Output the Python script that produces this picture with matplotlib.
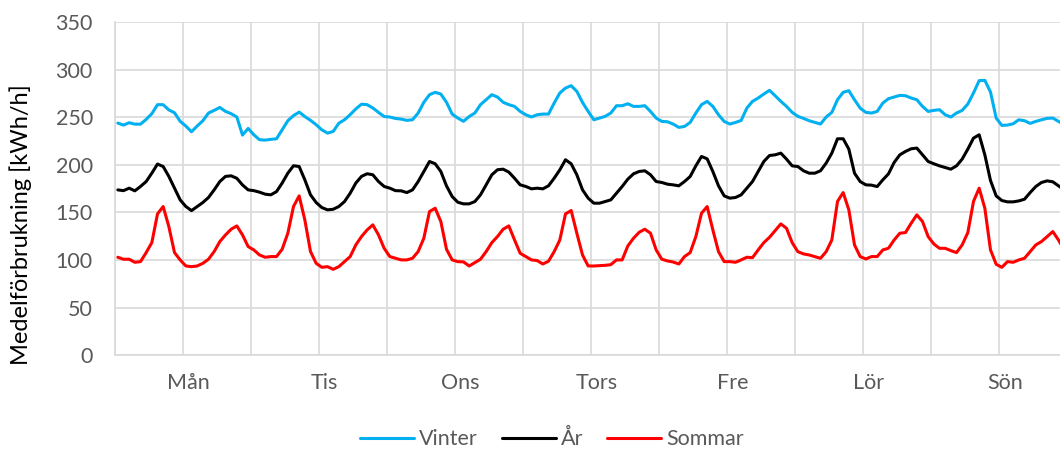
import numpy as np
import matplotlib
matplotlib.use("Agg")
import matplotlib.pyplot as plt

plt.rcParams['font.family'] = ['Lato', 'DejaVu Sans']

days = ["Mån", "Tis", "Ons", "Tors", "Fre", "Lör", "Sön"]
series_names = ["Vinter", "År", "Sommar"]

vinter = [
    244.1, 242.0, 244.5, 243.0, 243.0, 248.0, 254.0, 263.5, 263.5, 258.0, 255.0, 246.0,
    241.0, 235.0, 241.0, 246.6, 254.7, 257.5, 260.6, 256.4, 254.0, 250.5, 231.5, 238.5,
    231.8, 226.6, 226.2, 227.0, 227.6, 237.0, 246.6, 252.0, 255.7, 251.0, 247.0, 242.4,
    237.0, 233.6, 235.3, 244.0, 247.6, 253.0, 259.0, 264.0, 263.5, 260.0, 255.4, 251.0,
    250.5, 249.0, 248.3, 247.0, 247.6, 254.7, 266.0, 274.0, 276.5, 274.7, 266.0, 253.6,
    249.4, 246.0, 251.0, 254.7, 263.5, 268.7, 274.0, 271.5, 266.0, 263.5, 261.7, 256.4,
    252.9, 250.5, 252.9, 253.6, 253.6, 265.2, 275.8, 281.0, 283.5, 277.5, 265.9, 256.4,
    247.6, 249.4, 251.2, 254.7, 262.4, 262.4, 264.5, 261.7, 261.7, 262.4, 256.4, 249.4,
    245.9, 245.5, 243.1, 239.6, 240.6, 244.8, 254.7, 263.5, 267.0, 261.7, 252.9, 245.9,
    243.1, 244.8, 246.9, 259.9, 267.0, 270.5, 274.7, 278.6, 272.9, 267.0, 261.7, 255.4,
    251.2, 249.1, 246.6, 244.8, 243.1, 250.5, 255.4, 268.7, 276.5, 278.2, 268.7, 259.9,
    255.4, 254.7, 256.4, 265.2, 269.8, 271.5, 273.3, 272.9, 270.5, 268.7, 261.7, 256.4,
    257.5, 258.2, 252.9, 250.5, 254.7, 257.5, 264.2, 275.8, 288.8, 289.1, 276.8, 249.4,
    241.7, 242.0, 243.4, 247.6, 246.6, 243.8, 245.9, 247.6, 249.1, 249.4, 245.9, 242.4,
]

ar = [
    173.8, 173.0, 175.6, 172.8, 177.4, 182.6, 191.4, 201.0, 198.4, 188.0, 175.6, 163.3,
    156.3, 152.0, 156.3, 160.5, 165.8, 173.8, 182.6, 188.0, 188.6, 186.0, 179.0, 173.8,
    173.0, 171.4, 169.3, 168.6, 172.0, 181.0, 191.4, 199.2, 198.4, 184.4, 168.6, 160.5,
    155.2, 152.8, 153.4, 156.3, 161.5, 170.3, 181.0, 188.0, 190.8, 189.7, 182.6, 177.4,
    175.6, 173.0, 172.8, 171.0, 173.8, 182.6, 193.2, 203.7, 201.3, 193.2, 178.0, 166.8,
    160.8, 159.1, 159.1, 161.5, 168.6, 179.1, 189.7, 195.0, 195.6, 192.5, 186.1, 179.1,
    177.4, 174.9, 175.6, 174.9, 178.1, 186.1, 194.9, 205.5, 201.3, 189.7, 173.9, 165.1,
    159.8, 159.8, 161.5, 163.3, 170.3, 177.4, 185.1, 190.7, 193.2, 193.9, 189.7, 182.6,
    181.6, 179.8, 179.1, 178.1, 182.6, 187.9, 199.1, 209.0, 206.5, 193.2, 178.1, 167.5,
    165.1, 165.8, 168.6, 175.6, 182.6, 193.2, 203.7, 210.0, 210.7, 212.5, 206.2, 199.1,
    198.4, 193.9, 191.4, 191.4, 193.9, 202.0, 212.5, 227.6, 227.6, 216.7, 191.4, 182.6,
    179.1, 178.8, 177.3, 184.4, 190.7, 202.7, 210.7, 214.3, 217.1, 217.8, 210.7, 203.7,
    201.3, 199.1, 197.4, 195.6, 199.1, 206.2, 216.7, 228.3, 231.8, 210.7, 183.7, 167.5,
    162.6, 161.2, 161.2, 162.2, 164.0, 171.0, 177.4, 181.6, 183.3, 182.3, 178.1, 173.8,
]

sommar = [
    102.9, 100.8, 100.8, 97.6, 98.3, 107.8, 118.3, 148.5, 156.3, 135.2, 107.8, 100.1,
    93.7, 93.0, 93.7, 96.5, 100.8, 108.9, 119.4, 126.4, 132.4, 135.9, 126.4, 114.1,
    110.6, 105.3, 102.9, 103.6, 103.6, 111.3, 128.2, 156.3, 167.5, 142.2, 108.9, 96.5,
    92.3, 93.0, 90.2, 93.0, 98.3, 103.6, 115.9, 124.7, 131.7, 137.0, 126.4, 112.3,
    103.6, 101.8, 100.1, 100.1, 101.8, 108.9, 122.9, 151.0, 154.5, 140.5, 111.3, 100.1,
    98.3, 98.0, 93.7, 97.2, 100.8, 108.9, 118.3, 124.7, 132.4, 135.9, 121.2, 107.1,
    103.6, 100.1, 99.4, 95.8, 98.7, 108.8, 121.1, 148.5, 152.1, 128.2, 105.3, 93.7,
    93.7, 94.1, 94.4, 95.1, 100.1, 100.1, 114.8, 122.9, 129.2, 132.4, 128.2, 110.6,
    100.8, 99.0, 97.9, 95.8, 103.6, 107.8, 124.6, 149.2, 156.3, 131.7, 108.8, 98.3,
    98.3, 97.6, 100.1, 102.9, 102.5, 110.6, 118.3, 123.9, 131.0, 138.0, 133.4, 118.3,
    108.8, 106.4, 105.3, 103.6, 101.8, 108.8, 121.1, 161.6, 171.0, 152.8, 115.9, 103.6,
    101.1, 103.6, 103.6, 110.6, 112.4, 121.1, 128.2, 128.9, 138.7, 147.5, 140.5, 124.6,
    116.9, 112.3, 112.3, 109.9, 107.8, 115.9, 128.9, 161.6, 175.6, 154.5, 110.6, 95.5,
    92.3, 98.3, 97.6, 100.1, 101.8, 108.8, 115.9, 119.4, 124.6, 129.9, 121.0, 110.6,
]

yticks = [0, 50, 100, 150, 200, 250, 300, 350]
colors = ["#00B0F0", "#000000", "#FF0000"]

W, H = 1060, 451
fig = plt.figure(figsize=(W / 100, H / 100), dpi=100)
# plot area (extends slightly past the right image edge, as in the reference)
left, right, top, bottom = 115, 1067, 22.5, 355
ax = fig.add_axes([left / W, 1 - bottom / H, (right - left) / W, (bottom - top) / H])

n = len(vinter)
x = np.arange(n)
for name, data, c in zip(series_names, [vinter, ar, sommar], colors):
    ax.plot(x, data, color=c, lw=2.2, label=name, zorder=3,
            solid_joinstyle='round', solid_capstyle='round')

ax.set_xlim(-0.5, n - 0.5)
ax.set_ylim(0, 350)
grid_c = "#D9D9D9"
ax.set_yticks(yticks)
ax.set_xticks(np.arange(-0.5, n, 12), minor=True)
ax.set_xticks([24 * d + 12.5 for d in range(len(days))])
ax.set_xticklabels(days)
ax.grid(True, axis='y', color=grid_c, lw=1.2, zorder=0)
ax.grid(True, axis='x', which='minor', color=grid_c, lw=1.2, zorder=0)
ax.grid(False, axis='x', which='major')
ax.tick_params(axis='both', which='both', length=0)
ax.tick_params(axis='y', labelsize=15.5, labelcolor="#595959", pad=16)
ax.tick_params(axis='x', labelsize=15.5, labelcolor="#595959", pad=13)
for s in ['top', 'right']:
    ax.spines[s].set_visible(False)
for s in ['left', 'bottom']:
    ax.spines[s].set_color(grid_c)
    ax.spines[s].set_linewidth(1.2)

fig.text(21 / W, 1 - 225 / H, "Medelförbrukning [kWh/h]", rotation=90,
         ha='center', va='center', fontsize=17, color="#000000")

fig.legend(loc='center', bbox_to_anchor=(552 / W, 1 - 439 / H), ncol=3,
           frameon=False, fontsize=15.5, labelcolor="#595959",
           handlelength=2.5, handletextpad=0.25, columnspacing=1.1)

fig.savefig("out.png", dpi=100)
